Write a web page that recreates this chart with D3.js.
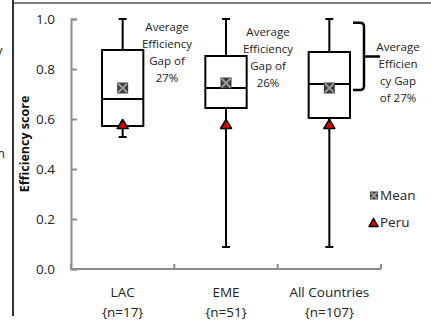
<!DOCTYPE html>
<html>
<head>
<meta charset="utf-8">
<script src="https://cdn.jsdelivr.net/npm/d3@7"></script>
<style>
  html, body { margin: 0; padding: 0; background: #fff; }
  svg { display: block; font-family: "Open Sans", sans-serif; }
</style>
</head>
<body>
<svg id="chart" width="431" height="323"></svg>
<script>
// Box-plot summary of efficiency scores by region
const categories = ["LAC", "EME", "All Countries"];
const sampleSizes = ["{n=17}", "{n=51}", "{n=107}"];
const whiskerHigh = [1.0, 1.0, 1.0];
const upperQuartile = [0.876, 0.852, 0.868];
const medians = [0.68, 0.724, 0.74];
const lowerQuartile = [0.572, 0.644, 0.604];
const whiskerLow = [0.528, 0.088, 0.088];
const means = [0.724, 0.744, 0.724];
const peru = [0.58, 0.58, 0.58];
const yTicks = [0, 0.2, 0.4, 0.6, 0.8, 1.0];
const gapNotes = [
  ["Average", "Efficiency", "Gap of", "27%"],
  ["Average", "Efficiency", "Gap of", "26%"],
  ["Average", "Efficien", "cy Gap", "of 27%"]
];
const bracketRange = [0.985, 0.716];
const legendItems = ["Mean", "Peru"];

const svg = d3.select("#chart");
const axisGrey = "#8c8c8c";

const y = d3.scaleLinear().domain([0, 1]).range([269, 19]);
const x = d3.scaleBand().domain(categories).range([71, 381]).padding(0);
const cx = c => x(c) + x.bandwidth() / 2;
const boxW = x.bandwidth() * 0.4;

// frame lines around the panel
svg.append("line").attr("x1", 13).attr("x2", 431).attr("y1", 3).attr("y2", 3)
  .attr("stroke", "#555").attr("stroke-width", 1.5);
svg.append("line").attr("x1", 13).attr("x2", 13).attr("y1", 0).attr("y2", 316)
  .attr("stroke", "#333").attr("stroke-width", 2);

// clipped words belonging to the neighbouring panel
svg.append("text").attr("x", -4).attr("y", 55).attr("font-size", 13).attr("fill", "#222").text("y");
svg.append("text").attr("x", -3).attr("y", 158).attr("font-size", 13).attr("fill", "#222").text("n");

// y axis
const yAxis = svg.append("g").attr("transform", "translate(71,0)")
  .call(d3.axisLeft(y).tickValues(yTicks).tickSize(-6).tickPadding(16).tickFormat(d3.format(".1f")));
yAxis.select(".domain").attr("stroke", axisGrey).attr("stroke-width", 2);
yAxis.selectAll(".tick line").attr("stroke", axisGrey).attr("stroke-width", 2);
yAxis.selectAll(".tick text").attr("font-size", 13.5).attr("fill", "#222")
  .attr("font-family", "Open Sans");

// x axis baseline and boundary ticks
svg.append("line").attr("x1", x.range()[0]).attr("x2", x.range()[1])
  .attr("y1", y(0)).attr("y2", y(0)).attr("stroke", axisGrey).attr("stroke-width", 2);
const bounds = categories.map(c => x(c)).concat([x.range()[1]]);
svg.selectAll(".xtick").data(bounds).join("line")
  .attr("x1", d => d).attr("x2", d => d)
  .attr("y1", y(0)).attr("y2", y(0) - 5)
  .attr("stroke", axisGrey).attr("stroke-width", 2);

// category labels
const catLabels = svg.selectAll(".cat").data(categories).join("text")
  .attr("text-anchor", "middle").attr("font-size", 13.5).attr("fill", "#222");
catLabels.append("tspan").attr("x", d => cx(d)).attr("y", 297).text(d => d);
catLabels.append("tspan").attr("x", d => cx(d)).attr("y", 317).text((d, i) => sampleSizes[i]);

// y axis title
svg.append("text")
  .attr("transform", `translate(29,${(y(0) + y(1)) / 2}) rotate(-90)`)
  .attr("text-anchor", "middle").attr("font-size", 12.5).attr("font-weight", "bold")
  .attr("fill", "#111").text("Efficiency score");

// whiskers
const g = svg.append("g");
categories.forEach((c, i) => {
  const xc = cx(c);
  g.append("line").attr("x1", xc).attr("x2", xc)
    .attr("y1", y(whiskerHigh[i])).attr("y2", y(upperQuartile[i]))
    .attr("stroke", "#000").attr("stroke-width", 2);
  g.append("line").attr("x1", xc).attr("x2", xc)
    .attr("y1", y(lowerQuartile[i])).attr("y2", y(whiskerLow[i]))
    .attr("stroke", "#000").attr("stroke-width", 2);
  [whiskerHigh[i], whiskerLow[i]].forEach(v => {
    g.append("line").attr("x1", xc - 4).attr("x2", xc + 4)
      .attr("y1", y(v)).attr("y2", y(v))
      .attr("stroke", "#000").attr("stroke-width", 2);
  });
  // box
  g.append("rect").attr("x", xc - boxW / 2).attr("y", y(upperQuartile[i]))
    .attr("width", boxW).attr("height", y(lowerQuartile[i]) - y(upperQuartile[i]))
    .attr("fill", "#fff").attr("stroke", "#000").attr("stroke-width", 2);
  g.append("line").attr("x1", xc - boxW / 2).attr("x2", xc + boxW / 2)
    .attr("y1", y(medians[i])).attr("y2", y(medians[i]))
    .attr("stroke", "#000").attr("stroke-width", 2);
});

// marker helpers
function meanMarker(sel, px, py, s) {
  const m = sel.append("g").attr("transform", `translate(${px},${py})`);
  m.append("rect").attr("x", -s / 2).attr("y", -s / 2).attr("width", s).attr("height", s)
    .attr("fill", "#3c3c3c");
  const a = s / 2 - 1;
  m.append("path").attr("d", `M${-a},${-a}L${a},${a}M${-a},${a}L${a},${-a}`)
    .attr("stroke", "#9a9a9a").attr("stroke-width", 1.8);
}
function peruMarker(sel, px, py, w, h) {
  sel.append("path")
    .attr("d", `M${px},${py - h / 2}L${px + w / 2},${py + h / 2}L${px - w / 2},${py + h / 2}Z`)
    .attr("fill", "#e00000").attr("stroke", "#000").attr("stroke-width", 1.5)
    .attr("stroke-linejoin", "round");
}

categories.forEach((c, i) => {
  meanMarker(g, cx(c), y(means[i]), 11);
  peruMarker(g, cx(c), y(peru[i]), 11, 9);
});

// gap annotations
const notePos = [
  { x: 167, y: 31 },
  { x: 268, y: 36 },
  { x: 398, y: 51 }
];
gapNotes.forEach((lines, i) => {
  const t = svg.append("text").attr("text-anchor", "middle").attr("font-size", 11.5).attr("fill", "#222");
  lines.forEach((l, j) => {
    t.append("tspan").attr("x", notePos[i].x).attr("y", notePos[i].y + j * 17).text(l);
  });
});

// bracket spanning the gap for all countries
const bTop = y(bracketRange[0]), bBot = y(bracketRange[1]);
const bMid = (bTop + bBot) / 2, bx0 = 353, bx1 = 364, r = 4;
svg.append("path")
  .attr("d", `M${bx0},${bTop}L${bx1 - r},${bTop}Q${bx1},${bTop} ${bx1},${bTop + r}` +
             `L${bx1},${bBot - r}Q${bx1},${bBot} ${bx1 - r},${bBot}L${bx0},${bBot}` +
             `M${bx1},${bMid}L${bx1 + 16},${bMid}`)
  .attr("fill", "none").attr("stroke", "#000").attr("stroke-width", 2.5);

// legend
const lg = svg.append("g");
meanMarker(lg, 374, 195.5, 8);
peruMarker(lg, 373.5, 222.5, 9, 8);
lg.selectAll("text").data(legendItems).join("text")
  .attr("x", 380).attr("y", (d, i) => 200 + i * 27)
  .attr("font-size", 13.5).attr("fill", "#222").text(d => d);
</script>
</body>
</html>
